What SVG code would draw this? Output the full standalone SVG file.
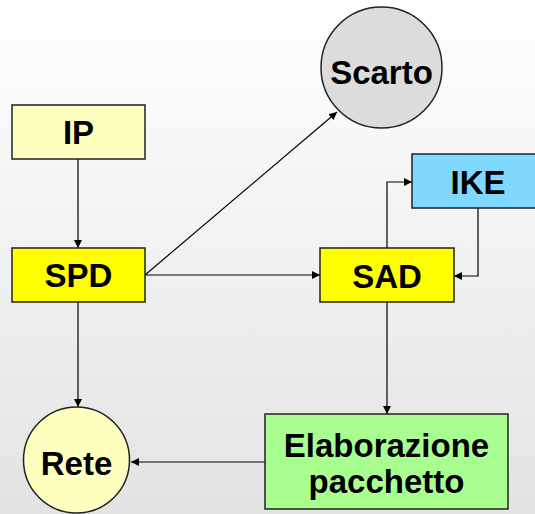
<svg xmlns="http://www.w3.org/2000/svg" width="535" height="514" viewBox="0 0 535 514">
<defs>
<linearGradient id="bg" x1="0" y1="0" x2="0" y2="1">
<stop offset="0" stop-color="#ffffff"/>
<stop offset="1" stop-color="#e3e3e3"/>
</linearGradient>
<marker id="ah" viewBox="0 0 10 10" refX="10" refY="5" markerWidth="8" markerHeight="8" markerUnits="userSpaceOnUse" orient="auto">
<path d="M0,0 L10,5 L0,10 z" fill="#000"/>
</marker>
<style>
.n{stroke:#222;stroke-width:1.5}
.t{font-family:"Liberation Sans",Arial,sans-serif;font-weight:bold;font-size:33px;text-anchor:middle;fill:#000}
.c{fill:none;stroke:#000;stroke-width:1.2;marker-end:url(#ah)}
</style>
</defs>
<rect width="535" height="514" fill="url(#bg)"/>
<g id="connectors">
<path class="c" d="M78,159 V248"/>
<path class="c" d="M145,275 L337,112"/>
<path class="c" d="M145,275 H320"/>
<path class="c" d="M78,302 V407"/>
<path class="c" d="M387,248 V182 H412"/>
<path class="c" d="M478,208 V276 H454"/>
<path class="c" d="M387,302 V414"/>
<path class="c" d="M265,462 H131"/>
</g>
<g id="scarto">
<circle class="n" cx="381.5" cy="67.5" r="60.5" fill="#dcdcdc"/>
<text class="t" x="381.5" y="84">Scarto</text>
</g>
<g id="ip">
<rect class="n" x="12" y="105" width="133" height="54" fill="#ffffc0"/>
<text class="t" x="78.5" y="144">IP</text>
</g>
<g id="spd">
<rect class="n" x="12" y="248" width="133" height="54" fill="#ffff00"/>
<text class="t" x="78.5" y="287">SPD</text>
</g>
<g id="ike">
<rect class="n" x="412" y="154" width="132" height="54" fill="#80d8ff"/>
<text class="t" x="478" y="194">IKE</text>
</g>
<g id="sad">
<rect class="n" x="320" y="248" width="134" height="54" fill="#ffff00"/>
<text class="t" x="387" y="288">SAD</text>
</g>
<g id="elaborazione">
<rect class="n" x="265" y="414" width="243" height="95" fill="#a8ff90"/>
<text class="t" x="386.5" y="457">Elaborazione</text>
<text class="t" x="386.5" y="493">pacchetto</text>
</g>
<g id="rete">
<circle class="n" cx="76.5" cy="460" r="53" fill="#ffffc0"/>
<text class="t" x="76.5" y="475">Rete</text>
</g>
</svg>
